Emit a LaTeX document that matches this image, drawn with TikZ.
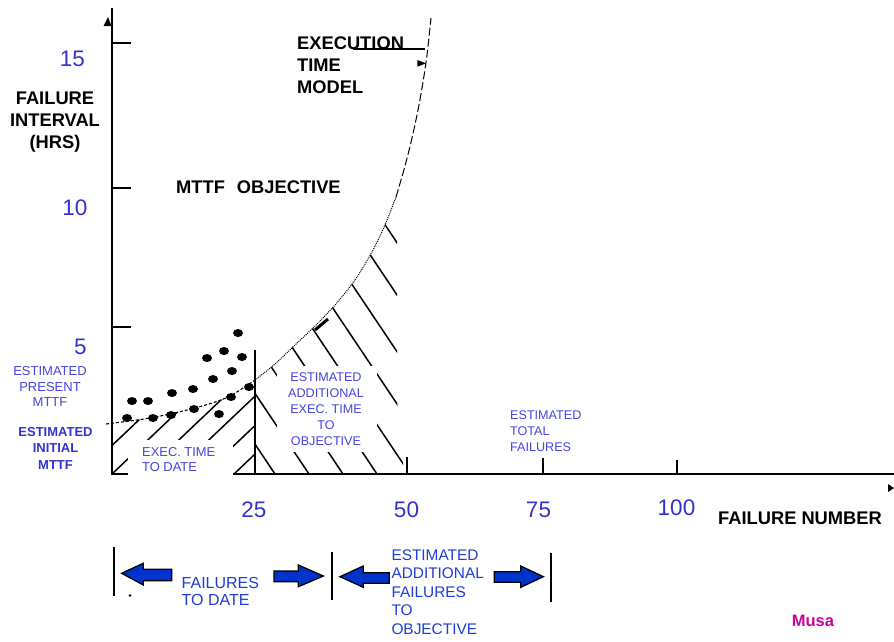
\documentclass[tikz,border=0pt]{standalone}
\usepackage{fontspec}
\setmainfont{Liberation Sans}
\definecolor{numblue}{RGB}{51,51,204}
\definecolor{lblue}{RGB}{68,68,225}
\definecolor{botblue}{RGB}{30,60,215}
\definecolor{arrblue}{RGB}{0,51,204}
\definecolor{musa}{RGB}{204,0,153}
\begin{document}
\begin{tikzpicture}[x=1pt,y=-1pt,
  axisline/.style={line width=2pt},
  tickline/.style={line width=1.8pt},
  hatch/.style={line width=1.5pt},
  bignum/.style={text=numblue,font=\fontsize{22.5}{27}\selectfont,inner sep=0pt},
  blackbold/.style={font=\fontsize{18.3}{22}\selectfont\bfseries,inner sep=0pt},
  smallblue/.style={text=lblue,font=\fontsize{12.6}{16}\selectfont,inner sep=0pt},
  botlabel/.style={text=botblue,inner sep=0pt},
  blockarrow/.style={fill=arrblue,draw=black,line width=1.3pt,line join=miter},
  curvelow/.style={line width=1.1pt,dash pattern=on 3pt off 2pt},
  curvemid/.style={line width=1pt,dash pattern=on 1pt off 1pt},
  curvetop/.style={line width=1pt,dash pattern=on 8pt off 3pt},
]
\useasboundingbox (0,0) rectangle (894,641);

% ---- hatching, left region (execution time to date)
\begin{scope}
\clip (112,474) -- (112,423) -- plot[smooth] coordinates {(112,423.2) (150,418) (195,408) (228,397) (255,380)} -- (255,474) -- cycle;
\foreach \b in {82,112,143,173,204,234} \draw[hatch] (\b,474) -- ++(160,-152);
\end{scope}
% ---- hatching, right region (additional execution time)
\begin{scope}
\clip plot[smooth] coordinates {(255,380) (275,364) (295,345) (315,326) (335,305) (355,280) (372,252) (385,225) (396,197)} -- (397,200) -- (397,400) -- (404,474) -- (255,474) -- cycle;
\foreach \c in {275,309,343,377,410,444,479,517,552} \draw[hatch] (\c,474) -- ++(-201,-300);
\end{scope}

% ---- axes
\draw[axisline] (112,474) -- (112,8);
\fill (103.5,26) -- (111.5,26) -- (108,17) -- cycle;
\draw[axisline] (111,474) -- (894,474);
\fill (888,484) -- (888,492) -- (894,488) -- cycle;

% white label backgrounds
\fill[white] (128,440) rectangle (233,477);
\fill[white] (277,366) rectangle (377,452);

% ticks
\foreach \y in {43,188,327} \draw[tickline] (112,\y) -- (131,\y);
\draw[axisline] (255,350) -- (255,474);
\draw[tickline] (407,457) -- (407,474);
\draw[tickline] (543,458) -- (543,474);
\draw[tickline] (677,460) -- (677,474);

% ---- execution time model curve
\draw[curvelow] plot[smooth] coordinates {(106,424) (150,418) (195,408) (228,397) (255,380)};
\draw[curvemid] plot[smooth] coordinates {(255,380) (275,364) (295,345) (315,326) (335,305) (355,280) (372,252) (385,225) (396,197)};
\draw[curvetop] plot[smooth] coordinates {(396,197) (405,166) (412,138) (418,110) (423,82) (427,55) (431,18)};
\draw[line width=3pt] (315,330) -- (328,319);

% ---- data points
\foreach \p in {(132,401),(148,401),(127,418),(153,418),(172,393),(171,415),(193,389),(194,409),(207,358),(224,351),(242,357),(213,379),(232,371),(231,397),(219,414),(249,387),(238,333)}
  \fill \p ellipse [x radius=5pt, y radius=4pt];

% ---- model pointer
\draw[line width=1.3pt] (353,49) -- (425,49);
\fill (417.3,60) -- (417.3,66.7) -- (426,63.3) -- cycle;

% ---- labels
\node[blackbold,align=center] (yl) at (55,122) {FAILURE\\INTERVAL\\(HRS)};
\node[blackbold,align=left,anchor=west] (etm) at (297,65) {EXECUTION\\TIME\\MODEL};
\node[blackbold,anchor=west] (obj) at (176,187) {MTTF\hspace{12pt}OBJECTIVE};
\node[blackbold] (fn) at (800,518) {FAILURE NUMBER};

\node[bignum] (n15) at (72.5,58.5) {15};
\node[bignum] (n10) at (75,207.5) {10};
\node[bignum] (n5) at (80.5,347) {5};
\node[bignum] (n25) at (254,510) {25};
\node[bignum] (n50) at (406.5,510) {50};
\node[bignum] (n75) at (538.5,510) {75};
\node[bignum] (n100) at (676.5,508) {100};

\node[smallblue,font=\fontsize{13}{15.5}\selectfont,align=center] (epm) at (50,386.5) {ESTIMATED\\PRESENT\\MTTF};
\node[text=numblue,inner sep=0pt,font=\fontsize{13}{16.6}\selectfont\bfseries,align=center] (eim) at (55.5,448.3) {ESTIMATED\\INITIAL\\MTTF};
\node[smallblue,font=\fontsize{12.9}{15}\selectfont,align=left,anchor=west] (etd) at (142,459.5) {EXEC. TIME\\TO DATE};
\node[smallblue,align=center] (eaet) at (326,409) {ESTIMATED\\ADDITIONAL\\EXEC. TIME\\TO\\OBJECTIVE};
\node[smallblue,align=left,anchor=west] (etf) at (510,431) {ESTIMATED\\TOTAL\\FAILURES};

% ---- bottom: failure ranges
\draw[axisline] (114.3,547) -- (114.3,596);
\draw[axisline] (332.3,552) -- (332.3,600);
\draw[axisline] (550.7,553) -- (550.7,602);
\filldraw[blockarrow] (121.7,573.3) -- (143.3,563.3) -- (143.3,569.3) -- (171.7,569.3) -- (171.7,580.7) -- (143.3,580.7) -- (143.3,585) -- cycle;
\filldraw[blockarrow] (323.3,576) -- (298.3,565) -- (298.3,571) -- (274,571) -- (274,581.7) -- (298.3,581.7) -- (298.3,586.7) -- cycle;
\filldraw[blockarrow] (340,576.7) -- (363.3,566) -- (363.3,572.7) -- (389.3,572.7) -- (389.3,583.3) -- (363.3,583.3) -- (363.3,587.3) -- cycle;
\filldraw[blockarrow] (543.3,576.7) -- (520.7,566) -- (520.7,571.7) -- (494.3,571.7) -- (494.3,582.3) -- (520.7,582.3) -- (520.7,587.3) -- cycle;
\fill (130,595.5) circle (1.3pt);

\node[botlabel,font=\fontsize{16}{17.5}\selectfont,align=left,anchor=west] (ftd) at (181.5,591.3) {FAILURES\\TO DATE};
\node[botlabel,font=\fontsize{15.4}{18.6}\selectfont,align=left,anchor=west] (eaf) at (391.3,592) {ESTIMATED\\ADDITIONAL\\FAILURES\\TO\\OBJECTIVE};
\node[text=musa,inner sep=0pt,font=\fontsize{16.5}{19}\selectfont\bfseries] (musa) at (813,621) {Musa};
\end{tikzpicture}
\end{document}
